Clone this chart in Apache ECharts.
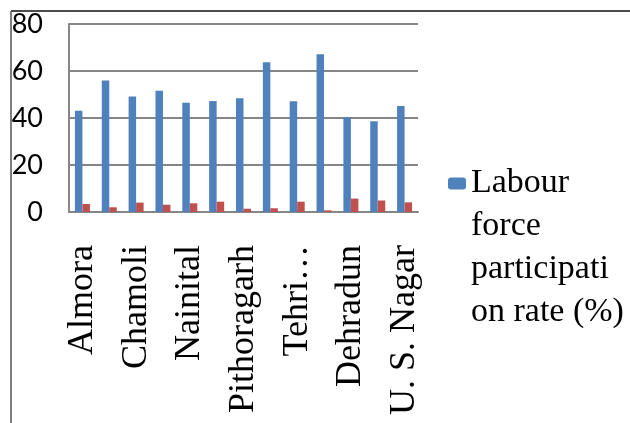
<!DOCTYPE html>
<html>
<head>
<meta charset="utf-8">
<script src="https://cdn.jsdelivr.net/npm/echarts@6/dist/echarts.min.js"></script>
<style>
  html, body { margin: 0; padding: 0; background: #fff; }
  #chart { width: 630px; height: 423px; }
</style>
</head>
<body>
<div id="chart"></div>
<script>
// districts of Uttarakhand
var districts = ["Almora", "Bageshwar", "Chamoli", "Champawat", "Nainital", "Pauri Garhwal",
  "Pithoragarh", "Rudraprayag", "Tehri Garhwal", "Uttarkashi", "Dehradun", "Haridwar", "U. S. Nagar"];
var lfpr = [43.1, 56.0, 49.1, 51.6, 46.5, 47.2, 48.4, 63.7, 47.1, 67.1, 40.3, 38.6, 45.1];
var unemp = [3.4, 2.0, 4.0, 3.1, 3.7, 4.4, 1.4, 1.6, 4.4, 0.7, 5.7, 4.9, 4.1];
var yTicks = [0, 20, 40, 60, 80];

var lineH = 43;
var chart = echarts.init(document.getElementById("chart"));

var option = {
  animation: false,
  grid: { left: 69, right: 212, top: 24, bottom: 211, outerBoundsMode: "none" },
  legend: {
    data: ["Labour force participation rate (%)"],
    left: 448,
    top: 33,
    padding: 0,
    itemWidth: 18,
    itemHeight: 12,
    itemStyle: { borderWidth: 0 },
    // 3 empty lines on top so the icon lines up with the first line
    formatter: function () {
      return "\n\n\nLabour\nforce\nparticipati\non rate (%)";
    },
    textStyle: {
      fontFamily: "Liberation Serif",
      fontSize: 34,
      color: "#000",
      lineHeight: lineH
    }
  },
  xAxis: {
    type: "category",
    data: districts,
    axisLine: { lineStyle: { color: "#868686", width: 2 } },
    axisTick: { show: false },
    axisLabel: {
      interval: 1,
      rotate: 90,
      margin: 33,
      fontFamily: "Liberation Serif",
      fontSize: 36,
      color: "#000",
      formatter: function (v) {
        return v.length > 11 ? v.split(" ")[0] + "…" : v;
      }
    }
  },
  yAxis: {
    type: "value",
    min: yTicks[0],
    max: yTicks[yTicks.length - 1],
    interval: 20,
    axisLine: { show: true, lineStyle: { color: "#868686", width: 2 } },
    axisTick: { show: false },
    splitLine: { lineStyle: { color: "#868686", width: 2 } },
    axisLabel: {
      margin: 26,
      fontFamily: "Lato",
      fontSize: 27,
      color: "#000"
    }
  },
  series: [
    {
      name: "Labour force participation rate (%)",
      type: "bar",
      data: lfpr,
      barWidth: 7.5,
      barGap: "0%",
      itemStyle: { color: "#4F81BD" }
    },
    {
      name: "Unemployment rate (%)",
      type: "bar",
      data: unemp,
      barWidth: 7.5,
      itemStyle: { color: "#C0504D" }
    }
  ],
  graphic: [
    { type: "line", shape: { x1: 11, y1: 11, x2: 630, y2: 11 }, style: { stroke: "#111", lineWidth: 1.5 } },
    { type: "line", shape: { x1: 11, y1: 11, x2: 11, y2: 423 }, style: { stroke: "#555", lineWidth: 1.5 } }
  ]
};

chart.setOption(option);
</script>
</body>
</html>
